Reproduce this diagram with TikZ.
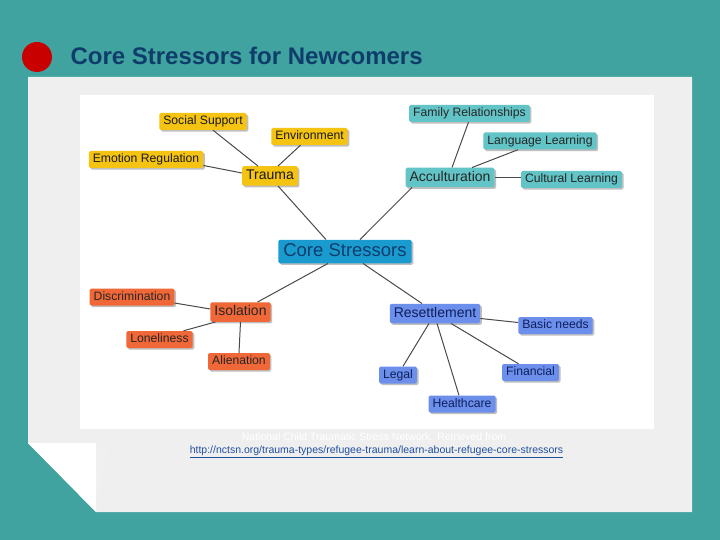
\documentclass[tikz,border=0pt]{standalone}
\usepackage{fontspec}
\setmainfont{Liberation Sans}
\usetikzlibrary{shadows}
\definecolor{bgteal}{HTML}{40A39F}
\definecolor{panelc}{HTML}{F0EFEF}
\definecolor{titlec}{HTML}{0E3D6B}
\definecolor{dotred}{HTML}{C80000}
\definecolor{yelc}{HTML}{F5C312}
\definecolor{tealc}{HTML}{62C4C6}
\definecolor{corec}{HTML}{1A9BD0}
\definecolor{orac}{HTML}{F06838}
\definecolor{bluc}{HTML}{6D8FEC}
\definecolor{navyc}{HTML}{0D1F5C}
\definecolor{linkc}{HTML}{1F4FA0}
\definecolor{linec}{HTML}{4A4A4A}
\tikzset{
  box/.style={rounded corners=1.5pt, inner xsep=4pt, inner ysep=2.75pt,
    text height=9pt, text depth=2.5pt, font=\fontsize{12.2}{14}\selectfont,
    drop shadow={shadow xshift=1.6pt, shadow yshift=-1.6pt, fill=black!45, opacity=0.55}},
  mainbox/.style={box, inner ysep=3pt, text height=10.5pt, text depth=3pt,
    font=\fontsize{14}{16}\selectfont},
  corebox/.style={box, inner xsep=5pt, inner ysep=3pt, text height=13.5pt, text depth=4pt,
    font=\fontsize{18.5}{20}\selectfont, fill=corec, text=titlec},
  ybox/.style={fill=yelc, text=black!90},
  tbox/.style={fill=tealc, text=black!85},
  obox/.style={fill=orac, text=black!85},
  bbox/.style={fill=bluc, text=navyc},
  conn/.style={draw=linec, line width=1pt}
}
\begin{document}
\begin{tikzpicture}[x=1pt,y=-1pt]
\useasboundingbox (0,0) rectangle (720,540);
\fill[bgteal] (0,0) rectangle (720,540);
% panel with folded corner
\fill[panelc] (28,77) -- (692,77) -- (692,512) -- (96,512) -- (28,443) -- cycle;
\fill[white] (28,443) -- (96,443) -- (96,512) -- cycle;
\fill[black!6] (96,443) -- (108,450) -- (96,505) -- cycle;
% image area
\fill[white] (80,95) rectangle (654,429);
% title
\fill[dotred] (37,57) circle (15);
\node[anchor=west, text=titlec, font=\fontsize{24}{26}\selectfont\bfseries] (title) at (67,56) {Core Stressors for Newcomers};
% nodes
\node[corebox] (core) at (345,251.5) {Core Stressors};
\node[mainbox, ybox] (trauma) at (270,176) {Trauma};
\node[box, ybox] (social) at (203,121.5) {Social Support};
\node[box, ybox] (env) at (309.5,136.5) {Environment};
\node[box, ybox] (emotion) at (146,159.5) {Emotion Regulation};
\node[mainbox, tbox] (accult) at (450,177.5) {Acculturation};
\node[box, tbox] (family) at (469.5,113.5) {Family Relationships};
\node[box, tbox] (language) at (540,141) {Language Learning};
\node[box, tbox] (cultural) at (571.5,179.5) {Cultural Learning};
\node[mainbox, obox] (iso) at (240.5,312) {Isolation};
\node[box, obox] (discrim) at (132,297) {Discrimination};
\node[box, obox] (lonely) at (159.5,339.5) {Loneliness};
\node[box, obox] (alien) at (239,361.5) {Alienation};
\node[mainbox, bbox] (reset) at (435,313.5) {Resettlement};
\node[box, bbox] (basic) at (555.5,325.5) {Basic needs};
\node[box, bbox] (legal) at (398,375) {Legal};
\node[box, bbox] (financial) at (530.5,372.5) {Financial};
\node[box, bbox] (health) at (462,404) {Healthcare};
% connectors
\draw[conn] ([xshift=-19pt]core.north) -- ([xshift=8pt]trauma.south);
\draw[conn] ([xshift=15pt]core.north) -- ([xshift=-38pt]accult.south);
\draw[conn] ([xshift=-17pt]core.south) -- ([xshift=17pt]iso.north);
\draw[conn] ([xshift=18pt]core.south) -- ([xshift=-13pt]reset.north);
\draw[conn] ([xshift=10pt]social.south) -- ([xshift=-12pt]trauma.north);
\draw[conn] ([xshift=-9pt]env.south) -- ([xshift=8pt]trauma.north);
\draw[conn] ([yshift=-6pt]emotion.east) -- ([yshift=3pt]trauma.west);
\draw[conn] ([xshift=-1pt]family.south) -- ([xshift=2pt]accult.north);
\draw[conn] ([xshift=-22pt]language.south) -- ([xshift=22pt]accult.north);
\draw[conn] (accult.east) -- ([yshift=2pt]cultural.west);
\draw[conn] ([yshift=-6pt]discrim.east) -- ([yshift=3pt]iso.west);
\draw[conn] ([xshift=24pt]lonely.north) -- ([xshift=-25pt]iso.south);
\draw[conn] (iso.south) -- (alien.north);
\draw[conn] ([yshift=-5pt]reset.east) -- ([yshift=3pt]basic.west);
\draw[conn] ([xshift=-6pt]reset.south) -- ([xshift=5pt]legal.north);
\draw[conn] ([xshift=2pt]reset.south) -- ([xshift=-3pt]health.north);
\draw[conn] ([xshift=16pt]reset.south) -- ([xshift=-12pt]financial.north);
% footer
\node[text=white, font=\fontsize{10.5}{12}\selectfont] (credit) at (374,437) {National Child Traumatic Stress Network. Retrieved from};
\node[text=linkc, font=\fontsize{10.5}{12}\selectfont] (url) at (376.5,452) {\underline{http://nctsn.org/trauma-types/refugee-trauma/learn-about-refugee-core-stressors}};
\end{tikzpicture}
\end{document}
